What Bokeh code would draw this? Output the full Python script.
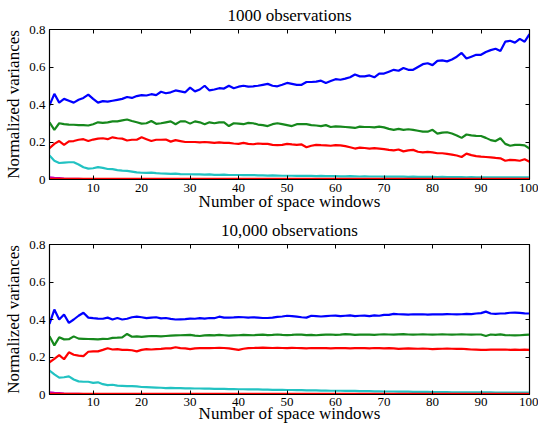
from bokeh.plotting import figure
from bokeh.models import Range1d, FixedTicker, LinearAxis
from bokeh.layouts import column
from bokeh.embed import file_html
from bokeh.resources import INLINE

windows = list(range(1, 101))
x_ticks = [10, 20, 30, 40, 50, 60, 70, 80, 90, 100]
y_ticks = [0, 0.2, 0.4, 0.6, 0.8]
y_tick_labels = ["0", "0.2", "0.4", "0.6", "0.8"]
titles = ["1000 observations", "10,000 observations"]
x_label = "Number of space windows"
y_label = "Normalized variances"

# ---- 1000 observations ----
t_blue = [
    0.395, 0.457, 0.410, 0.430, 0.420, 0.410, 0.425, 0.435, 0.453, 0.430,
    0.410, 0.418, 0.415, 0.420, 0.425, 0.430, 0.440, 0.435, 0.445, 0.450,
    0.448, 0.455, 0.450, 0.468, 0.460, 0.465, 0.475, 0.470, 0.465, 0.490,
    0.470, 0.480, 0.500, 0.475, 0.480, 0.487, 0.485, 0.500, 0.487, 0.495,
    0.500, 0.495, 0.497, 0.500, 0.505, 0.510, 0.500, 0.497, 0.505, 0.515,
    0.510, 0.505, 0.505, 0.520, 0.520, 0.522, 0.527, 0.515, 0.525, 0.535,
    0.532, 0.538, 0.545, 0.560, 0.550, 0.550, 0.555, 0.545, 0.565, 0.565,
    0.575, 0.585, 0.580, 0.595, 0.585, 0.585, 0.600, 0.615, 0.620, 0.610,
    0.633, 0.635, 0.630, 0.640, 0.655, 0.675, 0.645, 0.655, 0.665, 0.665,
    0.680, 0.690, 0.697, 0.685, 0.735, 0.740, 0.730, 0.750, 0.735, 0.775]
t_green = [
    0.305, 0.265, 0.300, 0.295, 0.293, 0.292, 0.290, 0.290, 0.288, 0.295,
    0.305, 0.302, 0.305, 0.310, 0.310, 0.315, 0.320, 0.312, 0.305, 0.298,
    0.300, 0.312, 0.297, 0.300, 0.305, 0.310, 0.295, 0.310, 0.310, 0.298,
    0.310, 0.305, 0.295, 0.305, 0.300, 0.305, 0.305, 0.285, 0.300, 0.298,
    0.295, 0.302, 0.300, 0.293, 0.290, 0.285, 0.295, 0.300, 0.295, 0.290,
    0.285, 0.295, 0.295, 0.295, 0.290, 0.288, 0.285, 0.290, 0.280, 0.283,
    0.282, 0.280, 0.278, 0.275, 0.282, 0.280, 0.280, 0.278, 0.282, 0.278,
    0.270, 0.265, 0.270, 0.265, 0.268, 0.265, 0.260, 0.255, 0.255, 0.265,
    0.245, 0.250, 0.252, 0.245, 0.235, 0.222, 0.240, 0.235, 0.233, 0.232,
    0.222, 0.210, 0.205, 0.220, 0.190, 0.180, 0.185, 0.185, 0.182, 0.165]
t_red = [
    0.167, 0.190, 0.205, 0.185, 0.203, 0.205, 0.212, 0.215, 0.205, 0.213,
    0.218, 0.220, 0.215, 0.225, 0.220, 0.218, 0.208, 0.212, 0.212, 0.225,
    0.215, 0.205, 0.212, 0.212, 0.213, 0.202, 0.210, 0.205, 0.200, 0.200,
    0.200, 0.198, 0.200, 0.198, 0.195, 0.198, 0.195, 0.195, 0.192, 0.190,
    0.195, 0.190, 0.188, 0.192, 0.190, 0.190, 0.185, 0.183, 0.185, 0.190,
    0.187, 0.185, 0.187, 0.172, 0.180, 0.185, 0.183, 0.182, 0.180, 0.183,
    0.182, 0.178, 0.172, 0.165, 0.170, 0.168, 0.165, 0.167, 0.165, 0.162,
    0.158, 0.155, 0.160, 0.150, 0.155, 0.158, 0.148, 0.145, 0.147, 0.145,
    0.140, 0.140, 0.137, 0.133, 0.128, 0.120, 0.138, 0.130, 0.125, 0.122,
    0.120, 0.118, 0.115, 0.113, 0.100, 0.105, 0.103, 0.100, 0.108, 0.095]
t_cyan = [
    0.128, 0.100, 0.088, 0.090, 0.092, 0.092, 0.080, 0.065, 0.058, 0.060,
    0.066, 0.062, 0.056, 0.055, 0.050, 0.047, 0.046, 0.042, 0.038, 0.036,
    0.035, 0.037, 0.034, 0.032, 0.031, 0.030, 0.031, 0.029, 0.028, 0.028,
    0.027, 0.027, 0.026, 0.027, 0.025, 0.025, 0.026, 0.024, 0.024, 0.024,
    0.023, 0.023, 0.024, 0.022, 0.022, 0.021, 0.022, 0.021, 0.020, 0.020,
    0.020, 0.019, 0.020, 0.019, 0.019, 0.018, 0.019, 0.018, 0.018, 0.018,
    0.017, 0.017, 0.018, 0.017, 0.016, 0.017, 0.016, 0.016, 0.016, 0.015,
    0.016, 0.015, 0.015, 0.015, 0.014, 0.015, 0.014, 0.014, 0.014, 0.014,
    0.013, 0.014, 0.013, 0.013, 0.013, 0.013, 0.012, 0.013, 0.012, 0.012,
    0.012, 0.012, 0.012, 0.011, 0.012, 0.011, 0.011, 0.011, 0.011, 0.011]
t_magenta = [
    0.012, 0.009, 0.007, 0.005, 0.004, 0.003, 0.003, 0.002, 0.002, 0.002,
    0.002, 0.002, 0.002, 0.002, 0.002, 0.002, 0.002, 0.002, 0.002, 0.002,
    0.002, 0.002, 0.002, 0.002, 0.002, 0.002, 0.002, 0.002, 0.002, 0.002,
    0.002, 0.002, 0.002, 0.002, 0.002, 0.002, 0.002, 0.002, 0.002, 0.002,
    0.002, 0.002, 0.002, 0.002, 0.002, 0.002, 0.002, 0.002, 0.002, 0.002,
    0.002, 0.002, 0.002, 0.002, 0.002, 0.002, 0.002, 0.002, 0.002, 0.002,
    0.002, 0.002, 0.002, 0.002, 0.002, 0.002, 0.002, 0.002, 0.002, 0.002,
    0.002, 0.002, 0.002, 0.002, 0.002, 0.002, 0.002, 0.002, 0.002, 0.002,
    0.002, 0.002, 0.002, 0.002, 0.002, 0.002, 0.002, 0.002, 0.002, 0.002,
    0.002, 0.002, 0.002, 0.002, 0.002, 0.002, 0.002, 0.002, 0.002, 0.002]
t_floor = [
    0.003, 0.003, 0.003, 0.003, 0.003, 0.003, 0.003, 0.003, 0.003, 0.003,
    0.003, 0.003, 0.003, 0.003, 0.003, 0.003, 0.003, 0.003, 0.003, 0.003,
    0.003, 0.003, 0.003, 0.003, 0.003, 0.003, 0.003, 0.003, 0.003, 0.003,
    0.003, 0.003, 0.003, 0.003, 0.003, 0.003, 0.003, 0.003, 0.003, 0.003,
    0.003, 0.003, 0.003, 0.003, 0.003, 0.003, 0.003, 0.003, 0.003, 0.003,
    0.003, 0.003, 0.003, 0.003, 0.003, 0.003, 0.003, 0.003, 0.003, 0.003,
    0.003, 0.003, 0.003, 0.003, 0.003, 0.003, 0.003, 0.003, 0.003, 0.003,
    0.003, 0.003, 0.003, 0.003, 0.003, 0.003, 0.003, 0.003, 0.003, 0.003,
    0.003, 0.003, 0.003, 0.003, 0.003, 0.003, 0.003, 0.003, 0.003, 0.003,
    0.003, 0.003, 0.003, 0.003, 0.003, 0.003, 0.003, 0.003, 0.003, 0.003]

# ---- 10,000 observations ----
b_blue = [
    0.377, 0.453, 0.400, 0.427, 0.382, 0.400, 0.420, 0.436, 0.410, 0.407,
    0.405, 0.404, 0.410, 0.400, 0.408, 0.400, 0.404, 0.412, 0.415, 0.412,
    0.407, 0.410, 0.412, 0.406, 0.408, 0.403, 0.400, 0.401, 0.402, 0.405,
    0.404, 0.407, 0.405, 0.408, 0.407, 0.415, 0.410, 0.410, 0.411, 0.413,
    0.412, 0.410, 0.412, 0.410, 0.408, 0.408, 0.410, 0.414, 0.416, 0.420,
    0.418, 0.415, 0.412, 0.410, 0.420, 0.418, 0.416, 0.418, 0.420, 0.421,
    0.418, 0.420, 0.422, 0.418, 0.420, 0.421, 0.418, 0.422, 0.420, 0.425,
    0.425, 0.430, 0.428, 0.427, 0.426, 0.428, 0.427, 0.428, 0.426, 0.427,
    0.428, 0.427, 0.429, 0.428, 0.427, 0.428, 0.430, 0.429, 0.432, 0.434,
    0.442, 0.432, 0.430, 0.432, 0.433, 0.436, 0.437, 0.435, 0.433, 0.432]
b_green = [
    0.311, 0.262, 0.305, 0.294, 0.295, 0.310, 0.298, 0.297, 0.296, 0.295,
    0.294, 0.297, 0.296, 0.302, 0.303, 0.305, 0.323, 0.308, 0.310, 0.307,
    0.310, 0.312, 0.311, 0.310, 0.312, 0.314, 0.315, 0.316, 0.317, 0.318,
    0.314, 0.312, 0.315, 0.317, 0.315, 0.318, 0.316, 0.314, 0.315, 0.316,
    0.318, 0.317, 0.316, 0.318, 0.319, 0.317, 0.318, 0.320, 0.318, 0.317,
    0.318, 0.320, 0.319, 0.317, 0.318, 0.316, 0.318, 0.319, 0.320, 0.318,
    0.319, 0.322, 0.321, 0.318, 0.319, 0.320, 0.319, 0.318, 0.320, 0.321,
    0.320, 0.319, 0.321, 0.322, 0.320, 0.319, 0.320, 0.321, 0.320, 0.319,
    0.320, 0.321, 0.320, 0.319, 0.320, 0.321, 0.320, 0.319, 0.320, 0.320,
    0.312, 0.320, 0.318, 0.321, 0.317, 0.316, 0.315, 0.316, 0.318, 0.319]
b_red = [
    0.172, 0.190, 0.210, 0.188, 0.225, 0.212, 0.207, 0.205, 0.228, 0.230,
    0.230, 0.238, 0.247, 0.240, 0.242, 0.238, 0.238, 0.236, 0.230, 0.238,
    0.242, 0.240, 0.242, 0.243, 0.246, 0.246, 0.252, 0.247, 0.246, 0.242,
    0.246, 0.247, 0.248, 0.247, 0.248, 0.249, 0.248, 0.246, 0.242, 0.238,
    0.244, 0.247, 0.248, 0.249, 0.250, 0.249, 0.248, 0.249, 0.248, 0.247,
    0.249, 0.248, 0.247, 0.246, 0.248, 0.247, 0.248, 0.247, 0.246, 0.247,
    0.248, 0.247, 0.246, 0.247, 0.248, 0.247, 0.246, 0.248, 0.247, 0.246,
    0.247, 0.246, 0.243, 0.245, 0.246, 0.245, 0.244, 0.245, 0.244, 0.242,
    0.243, 0.244, 0.245, 0.244, 0.243, 0.244, 0.242, 0.240, 0.239, 0.238,
    0.238, 0.239, 0.240, 0.239, 0.240, 0.238, 0.239, 0.238, 0.239, 0.238]
b_cyan = [
    0.128, 0.107, 0.090, 0.092, 0.097, 0.080, 0.070, 0.068, 0.068, 0.062,
    0.065, 0.055, 0.050, 0.052, 0.047, 0.046, 0.045, 0.045, 0.043, 0.040,
    0.039, 0.038, 0.037, 0.036, 0.034, 0.035, 0.034, 0.034, 0.033, 0.033,
    0.032, 0.032, 0.031, 0.031, 0.030, 0.030, 0.030, 0.029, 0.029, 0.028,
    0.028, 0.027, 0.027, 0.027, 0.026, 0.026, 0.025, 0.025, 0.025, 0.024,
    0.024, 0.023, 0.023, 0.022, 0.022, 0.022, 0.021, 0.021, 0.020, 0.020,
    0.020, 0.019, 0.019, 0.019, 0.018, 0.018, 0.018, 0.017, 0.017, 0.016,
    0.016, 0.016, 0.015, 0.015, 0.015, 0.014, 0.014, 0.014, 0.014, 0.013,
    0.013, 0.013, 0.013, 0.012, 0.012, 0.012, 0.012, 0.011, 0.011, 0.011,
    0.011, 0.011, 0.010, 0.010, 0.010, 0.010, 0.010, 0.010, 0.010, 0.010]
b_magenta = t_magenta
b_floor = t_floor

FONT = "Liberation Serif"
COLORS = {"blue": "#0000ff", "green": "#16881c", "red": "#ff0000",
          "cyan": "#22c2c2", "magenta": "#c000c0"}


def style_axis(ax, show_labels=True):
    ax.major_tick_in = 4
    ax.major_tick_out = 0
    ax.minor_tick_line_color = None
    ax.axis_line_color = "black"
    ax.major_tick_line_color = "black"
    ax.major_label_text_font = FONT
    ax.axis_label_text_font = FONT
    ax.axis_label_text_font_size = "17px"
    ax.axis_label_text_font_style = "normal"
    ax.axis_label_text_color = "black"
    if show_labels:
        ax.major_label_text_font_size = "13px"
        ax.major_label_text_color = "black"
    else:
        ax.major_label_text_font_size = "1px"
        ax.major_label_text_color = None
        ax.major_label_standoff = 0


def panel(title, series, height, b_top, b_bottom, tick_standoff,
          label_standoff, title_standoff):
    p = figure(width=538, height=height, x_range=Range1d(1, 100),
               y_range=Range1d(0, 0.8), output_backend="svg",
               toolbar_location=None, title=title,
               min_border_left=49, min_border_right=9,
               min_border_top=b_top, min_border_bottom=b_bottom)
    p.title.align = "center"
    p.title.vertical_align = "top"
    p.title.text_font = FONT
    p.title.text_font_size = "17px"
    p.title.text_font_style = "normal"
    p.title.text_color = "black"
    p.title.standoff = title_standoff
    p.xgrid.visible = False
    p.ygrid.visible = False
    p.outline_line_color = "black"
    p.outline_line_alpha = 1.0
    p.outline_line_width = 1.2
    p.background_fill_color = "white"
    p.border_fill_color = "white"

    for name, vals in series:
        p.line(windows, vals, line_color=COLORS[name], line_width=2.2)

    p.xaxis.ticker = FixedTicker(ticks=x_ticks)
    p.xaxis.axis_label = x_label
    p.yaxis.ticker = FixedTicker(ticks=y_ticks)
    p.yaxis.major_label_overrides = dict(zip(y_ticks, y_tick_labels))
    p.yaxis.axis_label = y_label
    style_axis(p.xaxis[0])
    style_axis(p.yaxis[0])
    p.xaxis.major_label_standoff = tick_standoff
    p.xaxis.axis_label_standoff = label_standoff
    p.yaxis.major_label_standoff = 4
    p.yaxis.axis_label_standoff = 3

    top = LinearAxis(ticker=FixedTicker(ticks=x_ticks))
    style_axis(top, show_labels=False)
    p.add_layout(top, "above")
    right = LinearAxis(ticker=FixedTicker(ticks=y_ticks))
    style_axis(right, show_labels=False)
    p.add_layout(right, "right")
    return p


top_series = [("magenta", t_magenta), ("cyan", t_cyan), ("red", t_red),
              ("green", t_green), ("blue", t_blue), ("red", t_floor)]
bot_series = [("magenta", b_magenta), ("cyan", b_cyan), ("red", b_red),
              ("green", b_green), ("blue", b_blue), ("red", b_floor)]

p1 = panel(titles[0], top_series, 215, 29, 36, 4, -3, 5)
p2 = panel(titles[1], bot_series, 212, 29, 33, 3, -5, 5)

layout = column(p1, p2)
open("out.html", "w").write(file_html(layout, INLINE))
